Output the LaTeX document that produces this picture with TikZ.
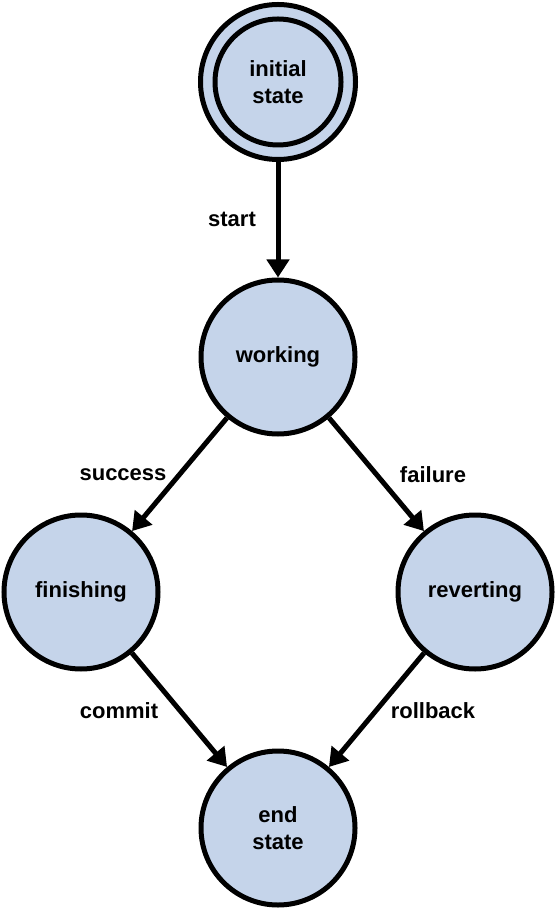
\documentclass[tikz,border=0pt]{standalone}
\usepackage{fontspec}
\setmainfont{Liberation Sans}
\usetikzlibrary{arrows.meta}
\definecolor{statefill}{RGB}{197,212,234}
\begin{document}
\begin{tikzpicture}[
    x=0.5pt, y=-0.5pt,
    mystate/.style={circle, draw=black, line width=2.5pt, fill=statefill, minimum size=77pt, inner sep=0pt, align=center, font=\fontsize{11}{13.5}\selectfont\bfseries},
    myarrow/.style={-{Triangle[length=9pt,width=11pt]}, line width=2.5pt},
    mylabel/.style={font=\fontsize{11}{13.5}\selectfont\bfseries},
]
\useasboundingbox (0,0) rectangle (556,913);

\node[mystate, minimum size=77.5pt] (init) at (278,82) {};
\node[mystate, minimum size=63pt] (initin) at (278,82) {initial\\state};

\node[mystate] (work) at (278,357) {working};
\node[mystate] (finish) at (81,592) {finishing};
\node[mystate] (revert) at (475,592) {reverting};
\node[mystate] (endst) at (278,828) {end\\state};

\draw[myarrow] (init) -- (work);
\draw[myarrow] (work) -- (finish);
\draw[myarrow] (work) -- (revert);
\draw[myarrow] (finish) -- (endst);
\draw[myarrow] (revert) -- (endst);

\node[mylabel] (lstart) at (232,219) {start};
\node[mylabel] (lsucc) at (123,475) {success};
\node[mylabel] (lfail) at (433,475) {failure};
\node[mylabel] (lcommit) at (119,711) {commit};
\node[mylabel] (lroll) at (433,711) {rollback};
\end{tikzpicture}
\end{document}
